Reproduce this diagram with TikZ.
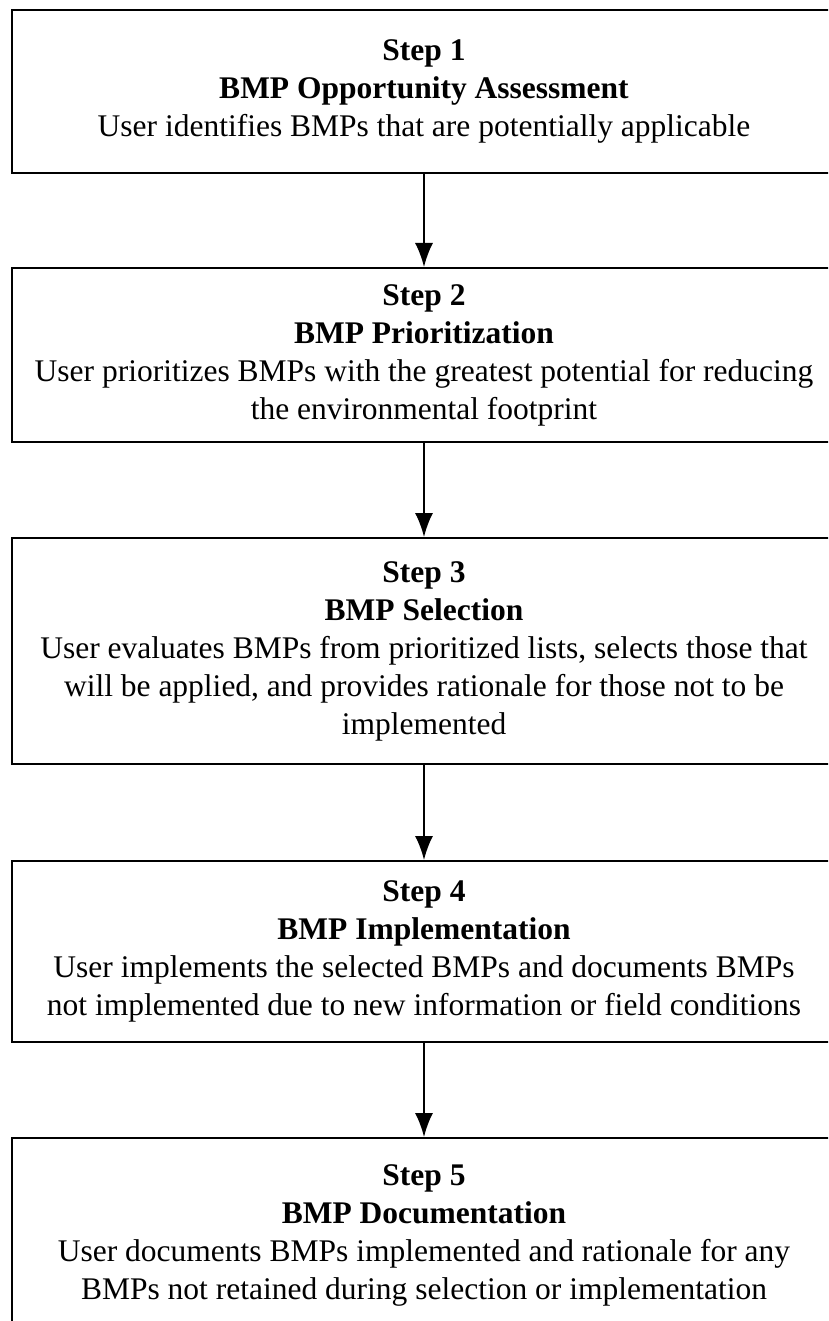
\documentclass[tikz,border=0pt]{standalone}
\usepackage{fontspec}
\setmainfont{Liberation Serif}
\usetikzlibrary{arrows.meta}
\begin{document}
\begin{tikzpicture}[x=1pt,y=-1pt,
  stepbox/.style={draw, line width=2pt, minimum width=824pt, align=center, anchor=north, inner sep=0pt, font=\fontsize{31.5}{38}\selectfont},
  flow/.style={draw, line width=1.8pt, -{Latex[length=24pt,width=18pt]}}]
\useasboundingbox (0,0) rectangle (828,1321);
\clip (0,0) rectangle (828,1321);

\node[stepbox, minimum height=163pt] (1) at (424,9) {\textbf{Step 1}\\ \textbf{BMP Opportunity Assessment}\\ User identifies BMPs that are potentially applicable};
\node[stepbox, minimum height=174pt] (2) at (424,267) {\textbf{Step 2}\\ \textbf{BMP Prioritization}\\ User prioritizes BMPs with the greatest potential for reducing\\ the environmental footprint};
\node[stepbox, minimum height=226pt] (3) at (424,537) {\textbf{Step 3}\\ \textbf{BMP Selection}\\ User evaluates BMPs from prioritized lists, selects those that\\ will be applied, and provides rationale for those not to be\\ implemented};
\node[stepbox, minimum height=181pt] (4) at (424,860) {\textbf{Step 4}\\ \textbf{BMP Implementation}\\ User implements the selected BMPs and documents BMPs\\ not implemented due to new information or field conditions};
\node[stepbox, minimum height=195pt] (5) at (424,1137) {\textbf{Step 5}\\ \textbf{BMP Documentation}\\ User documents BMPs implemented and rationale for any\\ BMPs not retained during selection or implementation};

\path[flow] (1) -- (2);
\path[flow] (2) -- (3);
\path[flow] (3) -- (4);
\path[flow] (4) -- (5);
\end{tikzpicture}
\end{document}
